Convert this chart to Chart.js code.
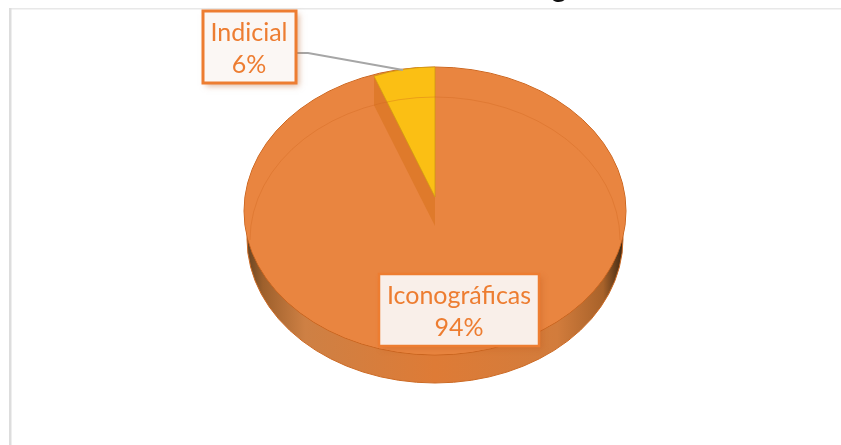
<!DOCTYPE html>
<html>
<head>
<meta charset="utf-8">
<style>html,body{margin:0;padding:0;background:#fff}canvas{display:block}</style>
<script src="https://cdn.jsdelivr.net/npm/chart.js@4/dist/chart.umd.min.js"></script>
</head>
<body>
<canvas id="c" width="841" height="445"></canvas>
<script>
const categories = ['Iconográficas', 'Indicial'];
const percentages = [94, 6];
const sliceColors = ['#E98540', '#FBBF14'];
const sliceEdges = ['#E98540', '#CF9A10'];

const ORANGE = '#ED7D31';
const top3d = {cx: 435, cy: 211, rx: 191, ry: 144};
const yellow3d = {cy: 197, sx: 0.87, ry: 130};
const bottom3d = {cy: 239, rx: 188, ry: 144};
const WALL = 29;
const boxes = [
  {x: 379, y: 274, w: 160, h: 72, fill: '#F9EFE9', bw: 2.5, tx: 459, ty: 304, shadow: 'rgba(190,90,30,0.35)'},
  {x: 203, y: 11, w: 93, h: 72, fill: '#FBF7F4', bw: 3, tx: 249, ty: 41, shadow: 'rgba(190,110,60,0.5)'}
];

function place(ctx, el, cx, cy, sx, sy) {
  ctx.translate(cx, cy);
  ctx.scale(sx, sy);
  ctx.translate(-el.x, -el.y);
}

const pie3d = {
  id: 'pie3d',
  beforeDatasetsDraw(chart) {
    const ctx = chart.ctx;
    const els = chart.getDatasetMeta(0).data;
    const [main, wedge] = els;
    const R = main.outerRadius;
    const t = top3d;

    // frame
    ctx.save();
    ctx.fillStyle = '#E8E8E8';
    ctx.fillRect(9, 8, 832, 1.5);
    ctx.fillStyle = '#DDDDDD';
    ctx.fillRect(9, 8, 2.5, 437);
    // clipped title fragment
    ctx.fillStyle = '#111';
    ctx.font = '30px Lato';
    ctx.textAlign = 'center';
    ctx.textBaseline = 'alphabetic';
    ctx.fillText('g', 559, -3.5);
    ctx.restore();

    // side of the pie
    ctx.save();
    const g = ctx.createLinearGradient(t.cx - t.rx, 0, t.cx + t.rx, 0);
    g.addColorStop(0, '#5E3F20');
    g.addColorStop(0.05, '#9E602C');
    g.addColorStop(0.16, '#CE8044');
    g.addColorStop(0.5, '#DE7B36');
    g.addColorStop(0.82, '#D27C3C');
    g.addColorStop(0.94, '#A8622A');
    g.addColorStop(1, '#2E1F0F');
    ctx.beginPath();
    ctx.ellipse(t.cx, bottom3d.cy, bottom3d.rx, bottom3d.ry, 0, 0, Math.PI * 2);
    ctx.fillStyle = g;
    ctx.fill();
    ctx.strokeStyle = '#CC6A24';
    ctx.lineWidth = 1;
    ctx.stroke();
    // base disc
    ctx.beginPath();
    ctx.ellipse(t.cx, t.cy, t.rx, t.ry, 0, 0, Math.PI * 2);
    ctx.fillStyle = sliceColors[0];
    ctx.fill();
    ctx.strokeStyle = '#CB6620';
    ctx.stroke();
    ctx.restore();

    // large slice, inset so the disc outline stays on top
    ctx.save();
    place(ctx, main, t.cx, t.cy, (t.rx - 1) / R, (t.ry - 1) / R);
    main.draw(ctx);
    ctx.restore();

    // inner wall beside the small slice
    const ex = t.cx + Math.cos(wedge.startAngle) * R * yellow3d.sx;
    const ey = yellow3d.cy + Math.sin(wedge.startAngle) * yellow3d.ry;
    ctx.save();
    ctx.beginPath();
    ctx.moveTo(ex, ey);
    ctx.lineTo(t.cx, yellow3d.cy);
    ctx.lineTo(t.cx, yellow3d.cy + WALL);
    ctx.lineTo(ex, ey + WALL);
    ctx.closePath();
    ctx.fillStyle = '#DF7A2B';
    ctx.fill();
    ctx.restore();

    // small slice
    ctx.save();
    place(ctx, wedge, t.cx, yellow3d.cy, yellow3d.sx, yellow3d.ry / R);
    wedge.draw(ctx);
    ctx.restore();

    // faint far rim
    ctx.save();
    ctx.beginPath();
    ctx.ellipse(t.cx, bottom3d.cy + 1, bottom3d.rx - 3, bottom3d.ry - 1, 0, Math.PI, Math.PI * 2);
    ctx.strokeStyle = 'rgba(205,100,30,0.35)';
    ctx.lineWidth = 1;
    ctx.stroke();
    ctx.restore();

    // leader line
    ctx.save();
    ctx.beginPath();
    ctx.moveTo(296, 53);
    ctx.lineTo(308, 53);
    ctx.lineTo(403, 70);
    ctx.strokeStyle = '#A6A6A6';
    ctx.lineWidth = 2;
    ctx.stroke();
    ctx.restore();

    // labels
    categories.forEach((name, i) => {
      const b = boxes[i];
      ctx.save();
      ctx.shadowColor = b.shadow;
      ctx.shadowBlur = 6;
      ctx.shadowOffsetX = 3;
      ctx.shadowOffsetY = 3;
      ctx.fillStyle = b.fill;
      ctx.fillRect(b.x, b.y, b.w, b.h);
      ctx.shadowColor = 'transparent';
      ctx.strokeStyle = ORANGE;
      ctx.lineWidth = b.bw;
      ctx.strokeRect(b.x, b.y, b.w, b.h);
      ctx.fillStyle = ORANGE;
      ctx.font = '25px Lato';
      ctx.textAlign = 'center';
      ctx.textBaseline = 'alphabetic';
      ctx.fillText(name, b.tx, b.ty);
      ctx.fillText(percentages[i] + '%', b.tx, b.ty + 32);
      ctx.restore();
    });
    return false;
  }
};

new Chart(document.getElementById('c'), {
  type: 'pie',
  data: {
    labels: categories,
    datasets: [{
      data: percentages,
      backgroundColor: sliceColors,
      borderColor: sliceEdges,
      borderWidth: 1
    }]
  },
  options: {
    responsive: false,
    animation: false,
    layout: {padding: {left: 244, right: 215, top: 31, bottom: 32}},
    plugins: {legend: {display: false}, title: {display: false}, tooltip: {enabled: false}}
  },
  plugins: [pie3d]
});
</script>
</body>
</html>
